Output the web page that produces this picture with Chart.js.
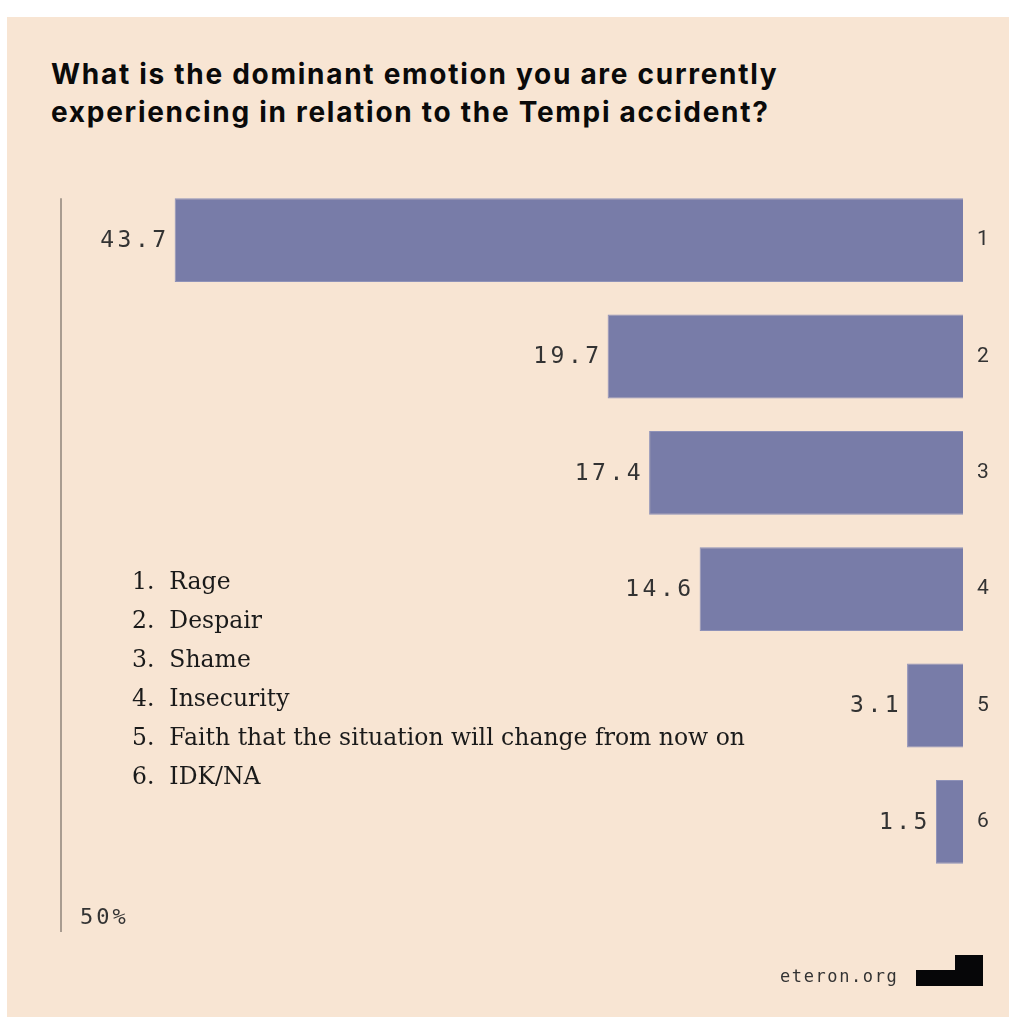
<!DOCTYPE html>
<html lang="en">
<head>
    <meta charset="UTF-8">
    <title>Tempi accident - dominant emotion</title>
    <script src="https://cdn.jsdelivr.net/npm/chart.js"></script>
    <style>
        body {
            margin: 0;
            background: #ffffff;
            width: 1009px;
            height: 1017px;
            overflow: hidden;
            position: relative;
        }
        .panel {
            position: absolute;
            left: 7px;
            top: 17px;
            right: 0;
            bottom: 0;
            background: #f8e5d3;
        }
        h1 {
            position: absolute;
            left: 51px;
            top: 55px;
            margin: 0;
            font-family: Inter, "Noto Sans", sans-serif;
            font-weight: 700;
            font-size: 28px;
            line-height: 38px;
            color: #0a0a0a;
            letter-spacing: 1.72px;
            white-space: nowrap;
        }
        canvas {
            position: absolute;
            left: 0;
            top: 0;
        }
        #legend {
            position: absolute;
            left: 132px;
            top: 562px;
            margin: 0;
            padding: 0;
            list-style: none;
            font-family: "DejaVu Serif", serif;
            font-size: 23.5px;
            line-height: 39px;
            color: #1a1a1a;
        }
        .mono {
            position: absolute;
            font-family: "DejaVu Sans Mono", monospace;
            color: #333;
        }
        #axisLabel {
            left: 80px;
            top: 904px;
            font-size: 22px;
            letter-spacing: 3px;
        }
        #site {
            left: 780px;
            top: 966px;
            font-size: 17px;
            letter-spacing: 1.6px;
        }
        .logo {
            position: absolute;
            background: #060608;
        }
    </style>
</head>
<body>
    <div class="panel"></div>
    <h1>What is the dominant emotion you are currently<br>experiencing in relation to the Tempi accident?</h1>
    <canvas id="chart" width="1009" height="1017"></canvas>
    <ul id="legend"></ul>
    <div class="mono" id="axisLabel">50%</div>
    <div class="mono" id="site">eteron.org</div>
    <div class="logo" style="left:916px; top:970px; width:67px; height:16px;"></div>
    <div class="logo" style="left:955px; top:955px; width:28px; height:16px;"></div>

    <script>
        let labels = ["1", "2", "3", "4", "5", "6"];
        let categories = ["Rage", "Despair", "Shame", "Insecurity", "Faith that the situation will change from now on", "IDK/NA"];
        let values = [43.7, 19.7, 17.4, 14.6, 3.1, 1.5];
        let axisMax = 50;

        let legend = document.getElementById("legend");
        categories.forEach(function(c, i) {
            let li = document.createElement("li");
            li.textContent = labels[i] + ".\u00a0 " + c;
            legend.appendChild(li);
        });

        // value labels to the left of each bar + the 50% axis line
        const barExtras = {
            id: "barExtras",
            afterDatasetsDraw(chart) {
                const ctx = chart.ctx;
                const meta = chart.getDatasetMeta(0);
                ctx.save();
                ctx.font = "23px 'DejaVu Sans Mono', monospace";
                ctx.letterSpacing = "3.5px";
                ctx.fillStyle = "#333";
                ctx.textAlign = "right";
                ctx.textBaseline = "middle";
                meta.data.forEach(function(bar, i) {
                    ctx.fillText(values[i].toFixed(1), bar.x - 5, bar.y + 1);
                });
                ctx.restore();

                const xs = chart.scales.x;
                const lineX = xs.getPixelForValue(axisMax);
                const first = meta.data[0];
                ctx.save();
                ctx.strokeStyle = "#a99c90";
                ctx.lineWidth = 2;
                ctx.beginPath();
                ctx.moveTo(lineX, first.y - first.height / 2);
                ctx.lineTo(lineX, chart.chartArea.bottom + 52);
                ctx.stroke();
                ctx.restore();
            }
        };

        var chart = new Chart(document.getElementById("chart"), {
            type: "bar",
            data: {
                labels: labels,
                datasets: [{
                    data: values,
                    backgroundColor: "#787ca8",
                    borderColor: "#8f92b8",
                    borderWidth: 1,
                    categoryPercentage: 1,
                    barPercentage: 0.72
                }]
            },
            options: {
                indexAxis: "y",
                responsive: false,
                animation: false,
                layout: { padding: { left: 61, top: 182, bottom: 137, right: 0 } },
                plugins: { legend: { display: false }, tooltip: { enabled: false } },
                scales: {
                    x: {
                        display: false,
                        reverse: true,
                        min: 0,
                        max: axisMax
                    },
                    y: {
                        position: "right",
                        grid: { display: false, drawTicks: false },
                        border: { display: false },
                        ticks: {
                            color: "#333",
                            font: { family: "Roboto", size: 21 },
                            padding: 14
                        },
                        afterFit(scale) { scale.width = 46; }
                    }
                }
            },
            plugins: [barExtras]
        });
    </script>
</body>
</html>
